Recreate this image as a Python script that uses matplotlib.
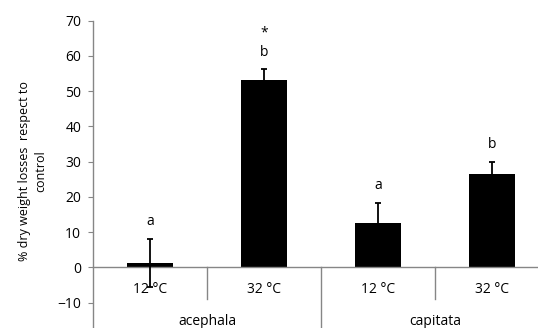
import matplotlib
matplotlib.use("Agg")
import matplotlib.pyplot as plt

# data
temps = ["12 °C", "32 °C", "12 °C", "32 °C"]
groups = ["acephala", "capitata"]
values = [1.2, 53.3, 12.7, 26.6]
errors = [6.8, 2.9, 5.5, 3.4]
letters = ["a", "*\nb", "a", "b"]
yticks = [-10, 0, 10, 20, 30, 40, 50, 60, 70]

plt.rcParams['font.family'] = ['Open Sans', 'DejaVu Sans']
grey = "#868686"
FS = 10

W, H = 538, 328
fig = plt.figure(figsize=(W / 100, H / 100), dpi=100)
# axes: x from 93px to 549px, y: 70 at 20.7px, 0 at 267.3px
px_per_unit = (267.3 - 20.7) / 70
ymin, ymax = -20, 70
top_px = 20.7
bottom_px = top_px + (ymax - ymin) * px_per_unit
ax = fig.add_axes([93 / W, 1 - bottom_px / H, 456 / W, (bottom_px - top_px) / H])

x = list(range(len(values)))
ax.bar(x, values, width=0.4, color="black", zorder=2)
ax.errorbar(x, values, yerr=errors, fmt="none", ecolor="black", elinewidth=1.3,
            capsize=2.5, capthick=1.3, zorder=3)

for xi, v, e, lab in zip(x, values, errors, letters):
    ax.annotate(lab, (xi, v + e), xytext=(0, 7), textcoords="offset points",
                ha="center", va="bottom", fontsize=FS, linespacing=1.35)

ax.set_xlim(-0.5, len(values) - 0.5)
ax.set_ylim(ymin, ymax)
ax.set_yticks(yticks)
ax.tick_params(axis="y", direction="out", length=3.5, color=grey, labelsize=FS, pad=5)
ax.set_xticks([])

for s in ["top", "right"]:
    ax.spines[s].set_visible(False)
ax.spines["left"].set_color(grey)
ax.spines["left"].set_linewidth(1.0)
ax.spines["bottom"].set_position(("data", 0))
ax.spines["bottom"].set_color(grey)
ax.spines["bottom"].set_linewidth(1.0)

# category separators
ax.plot([0.5, 0.5], [0, -9], color=grey, lw=1.0, clip_on=False)
ax.plot([2.5, 2.5], [0, -9], color=grey, lw=1.0, clip_on=False)
ax.plot([1.5, 1.5], [0, ymin], color=grey, lw=1.0, clip_on=False)

for xi, t in zip(x, temps):
    ax.text(xi, -6.4, t, ha="center", va="center", fontsize=FS, zorder=5)
for gi, g in enumerate(groups):
    ax.text(gi * 2 + 0.5, -15.5, g, ha="center", va="center", fontsize=FS)

fig.text(33 / W, 1 - 171.5 / H, "% dry weight losses  respect to\ncontrol",
         rotation=90, ha="center", va="center", multialignment="center",
         fontsize=9, linespacing=1.3)

fig.savefig("out.png", dpi=100)
